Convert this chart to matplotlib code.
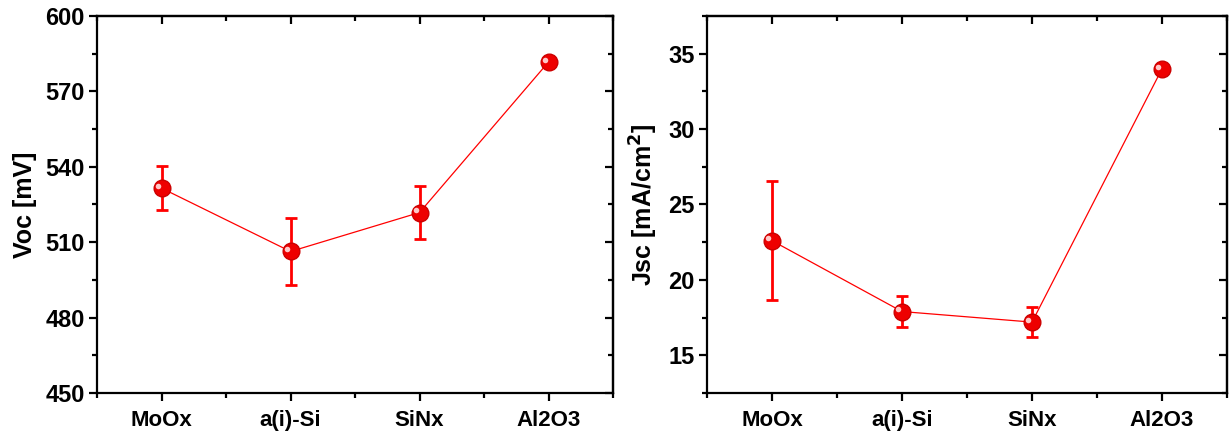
import numpy as np
import matplotlib.pyplot as plt
from matplotlib.ticker import MultipleLocator

plt.rcParams['font.family'] = ['Liberation Sans', 'DejaVu Sans']
plt.rcParams['font.weight'] = 'bold'

layers = ['MoOx', 'a(i)-Si', 'SiNx', 'Al2O3']
voc = [531.5, 506.3, 521.8, 581.7]
voc_err = [8.8, 13.5, 10.6, 0.0]
jsc = [22.6, 17.9, 17.2, 34.0]
jsc_err = [3.95, 1.05, 1.0, 0.0]

fig = plt.figure(figsize=(12.3, 4.32), dpi=100)
ax1 = fig.add_axes([0.0789, 0.0903, 0.4195, 0.8727])
ax2 = fig.add_axes([0.5748, 0.0903, 0.4228, 0.8727])

def style(ax, vals, errs, ylabel, ylim, major, minor):
    x = np.arange(1, len(layers) + 1)
    ax.errorbar(x, vals, yerr=errs, color='red', lw=0.9, elinewidth=2,
                capsize=4, capthick=2, marker='o', ms=12, mfc='#ee0000',
                mec='#cc0000', zorder=3)
    # highlight on the spheres
    ax.plot(x - 0.03, np.array(vals) + (ylim[1] - ylim[0]) * 0.006, 'o',
            ms=4, color='#ffc8c8', mec='none', zorder=4)
    ax.set_xlim(0.5, 4.5)
    ax.set_ylim(*ylim)
    ax.set_xticks(x)
    ax.set_xticklabels(layers)
    ax.xaxis.set_minor_locator(MultipleLocator(0.5))
    ax.yaxis.set_major_locator(MultipleLocator(major))
    ax.yaxis.set_minor_locator(MultipleLocator(minor))
    ax.set_ylabel(ylabel, fontsize=18, fontweight='bold', labelpad=6)
    for s in ax.spines.values():
        s.set_linewidth(1.6)
    ax.tick_params(which='major', direction='out', length=6, width=1.6, pad=3)
    ax.tick_params(which='minor', direction='out', length=3.5, width=1.6)
    ax.tick_params(axis='y', labelsize=17)
    ax.tick_params(axis='x', labelsize=16, pad=6)
    for lab in ax.get_xticklabels() + ax.get_yticklabels():
        lab.set_fontweight('bold')
    top = ax.secondary_xaxis('top')
    top.set_xticks(x)
    top.xaxis.set_minor_locator(MultipleLocator(0.5))
    top.tick_params(which='major', direction='in', length=6, width=1.6, labeltop=False)
    top.tick_params(which='minor', direction='in', length=3.5, width=1.6)
    top.spines['top'].set_linewidth(1.6)
    right = ax.secondary_yaxis('right')
    right.yaxis.set_major_locator(MultipleLocator(major))
    right.yaxis.set_minor_locator(MultipleLocator(minor))
    right.tick_params(which='major', direction='in', length=6, width=1.6, labelright=False)
    right.tick_params(which='minor', direction='in', length=3.5, width=1.6)
    right.spines['right'].set_linewidth(1.6)

style(ax1, voc, voc_err, 'Voc [mV]', (450, 600), 30, 15)
style(ax2, jsc, jsc_err, 'Jsc [mA/cm$^\\mathbf{2}$]', (12.5, 37.5), 5, 2.5)

fig.savefig('out.png', dpi=100)
